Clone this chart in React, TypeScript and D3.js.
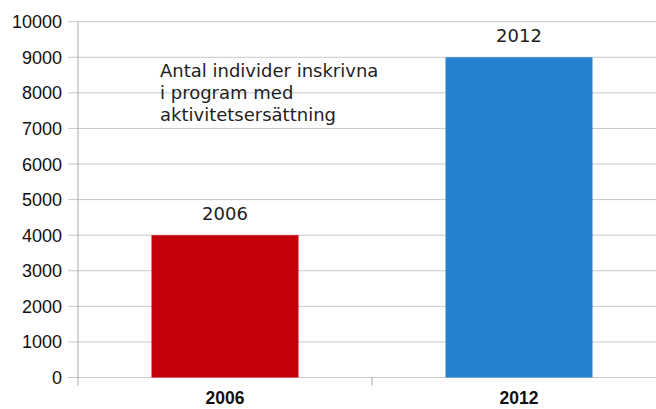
import React from "react";
import * as d3 from "d3";

const categories = ["2006", "2012"];
const values = [4000, 9000];
const barColors = ["#c4000b", "#2382d2"];
const yTicks = [0, 1000, 2000, 3000, 4000, 5000, 6000, 7000, 8000, 9000, 10000];
const noteLines = ["Antal individer inskrivna", "i program med", "aktivitetsersättning"];

export default function App() {
  const W = 656, H = 409;
  const left = 78, right = 666, top = 21.7, bottom = 377.5;
  const y = d3.scaleLinear().domain([0, 10000]).range([bottom, top]);
  const x = d3.scaleBand().domain(categories).range([left, right]).paddingInner(0).paddingOuter(0);
  const bw = x.bandwidth() * 0.5;
  const sans = "'Liberation Sans', Arial, sans-serif";
  const dv = "'DejaVu Sans', sans-serif";
  return (
    <svg width={W} height={H} style={{ position: "absolute", left: 0, top: 0 }}>
      <rect width={W} height={H} fill="#fff" />
      {yTicks.map((t) => (
        <g key={t}>
          <line x1={68} x2={right} y1={y(t)} y2={y(t)} stroke="#c8c8c8" strokeWidth={1} />
          <text x={62} y={y(t)} dy="0.36em" textAnchor="end" fontFamily={sans} fontSize={18} fill="#111">
            {t}
          </text>
        </g>
      ))}
      <line x1={left} x2={left} y1={top} y2={bottom + 8} stroke="#a8a8a8" />
      {categories.map((c) => (
        <line key={"d" + c} x1={(x(c) as number) + x.bandwidth()} x2={(x(c) as number) + x.bandwidth()} y1={bottom} y2={bottom + 8} stroke="#a8a8a8" />
      ))}
      {categories.map((c, i) => {
        const cx = (x(c) as number) + x.bandwidth() / 2;
        return (
          <g key={c}>
            <rect x={cx - bw / 2} y={y(values[i])} width={bw} height={bottom - y(values[i])} fill={barColors[i]} />
            <text x={cx} y={y(values[i]) - 22} dy="0.36em" textAnchor="middle" fontFamily={dv} fontSize={18} fill="#222">
              {c}
            </text>
            <text x={cx} y={404} textAnchor="middle" fontFamily={sans} fontWeight="bold" fontSize={17.5} fill="#111">
              {c}
            </text>
          </g>
        );
      })}
      {noteLines.map((l, i) => (
        <text key={i} x={160} y={71 + i * 22} dy="0.36em" fontFamily={dv} fontSize={18} fill="#222">
          {l}
        </text>
      ))}
    </svg>
  );
}
